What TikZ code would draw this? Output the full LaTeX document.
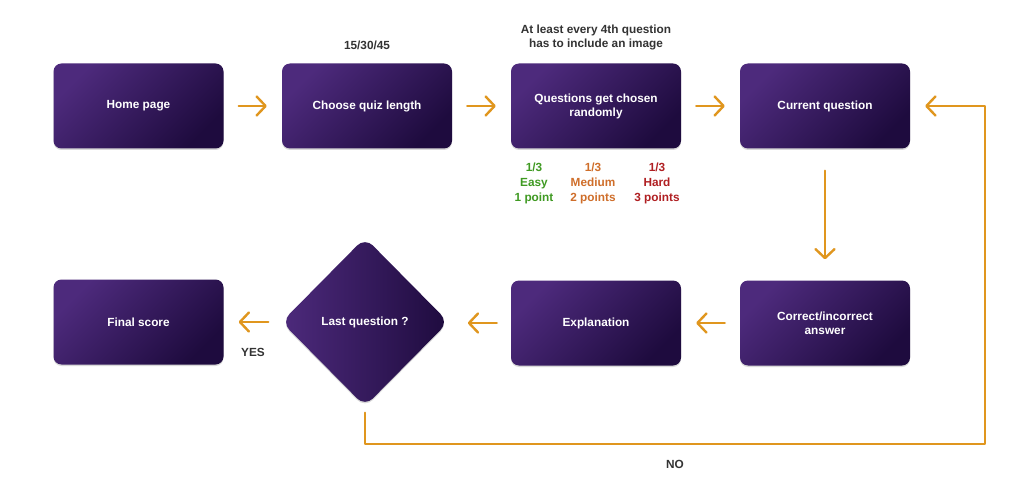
\documentclass[tikz,border=0pt]{standalone}
\usepackage{fontspec}
\setmainfont{Liberation Sans}
\usetikzlibrary{shapes.geometric,arrows.meta,shadows,calc}
\definecolor{boxlight}{HTML}{4D2A7C}
\definecolor{boxdark}{HTML}{1E0B3E}
\definecolor{arrowc}{HTML}{E0961E}
\definecolor{labelc}{HTML}{333333}
\definecolor{easyc}{HTML}{3F9A22}
\definecolor{medc}{HTML}{CF6E2A}
\definecolor{hardc}{HTML}{B01F22}
\tikzset{
  card/.style={rounded corners=8pt, draw=none, minimum width=170pt, minimum height=85pt,
    top color=boxlight, bottom color=boxdark, middle color=boxdark!50!boxlight, shading angle=45,
    text=white, font=\bfseries\fontsize{11.8}{14}\selectfont, align=center,
    drop shadow={shadow xshift=0pt, shadow yshift=-1.5pt, opacity=0.15, fill=black}},
  decision/.style={diamond, rounded corners=11pt, draw=none, minimum width=167pt, minimum height=169pt, inner sep=0pt,
    left color=boxlight, right color=boxdark, middle color=boxdark!50!boxlight,
    text=white, font=\bfseries\fontsize{11.8}{14}\selectfont, align=center,
    drop shadow={shadow xshift=0pt, shadow yshift=-1.5pt, opacity=0.15, fill=black}},
  arr/.style={draw=arrowc, line width=2.4pt, line cap=round, line join=round,
    -{Straight Barb[length=9pt, width=19pt, line width=2.4pt, round]}},
  note/.style={text=labelc, font=\bfseries\fontsize{11.8}{14}\selectfont, align=center},
  pts/.style={font=\bfseries\fontsize{11.8}{15}\selectfont, align=center}
}
\begin{document}
\begin{tikzpicture}[x=1pt, y=-1pt]
  \useasboundingbox (0,0) rectangle (1024,494);
  \fill[white] (0,0) rectangle (1024,494);
  % nodes
  \node[card] (home) at (138.5,106) {Home page};
  \node[card] (choose) at (367,106) {Choose quiz length};
  \node[card] (questions) at (596,106) {Questions get chosen\\randomly};
  \node[card] (current) at (825,106) {Current question};
  \node[card] (correct) at (825,323) {Correct/incorrect\\answer};
  \node[card] (expl) at (596,323) {Explanation};
  \node[decision] (last) at (365,322) {Last question ?};
  \node[card] (final) at (138.5,322) {Final score};
  % labels
  \node[note] (lenlbl) at (367,45) {15/30/45};
  \node[note] (imglbl) at (596,37.5) {At least every 4th question\\has to include an image};
  \node[pts, text=easyc] (easy) at (534,183.5) {1/3\\Easy\\1 point};
  \node[pts, text=medc] (medium) at (593,183.5) {1/3\\Medium\\2 points};
  \node[pts, text=hardc] (hard) at (657,183.5) {1/3\\Hard\\3 points};
  \node[note] (yes) at (253,352) {YES};
  \node[note] (no) at (675,464) {NO};
  % connectors
  \draw[arr] ($(home.east)+(15,0)$) -- ($(choose.west)+(-15,0)$);
  \draw[arr] ($(choose.east)+(15,0)$) -- ($(questions.west)+(-15,0)$);
  \draw[arr] ($(questions.east)+(15,0)$) -- ($(current.west)+(-15,0)$);
  \draw[arr] ($(current.south)+(0,22)$) -- ($(correct.north)+(0,-21)$);
  \draw[arr] ($(correct.west)+(-15,0)$) -- ($(expl.east)+(15,0)$);
  \draw[arr] ($(expl.west)+(-14,0)$) -- ($(expl.west)+(-43,0)$);
  \coordinate (loopc) at (985,444);
  \draw[arr] ($(last.south)+(0,6)$) |- (loopc) |- ($(current.east)+(15,0)$);
  \draw[arr] ($(last.west)+(-13,0)$) -- ($(final.east)+(15,0)$);
\end{tikzpicture}
\end{document}
